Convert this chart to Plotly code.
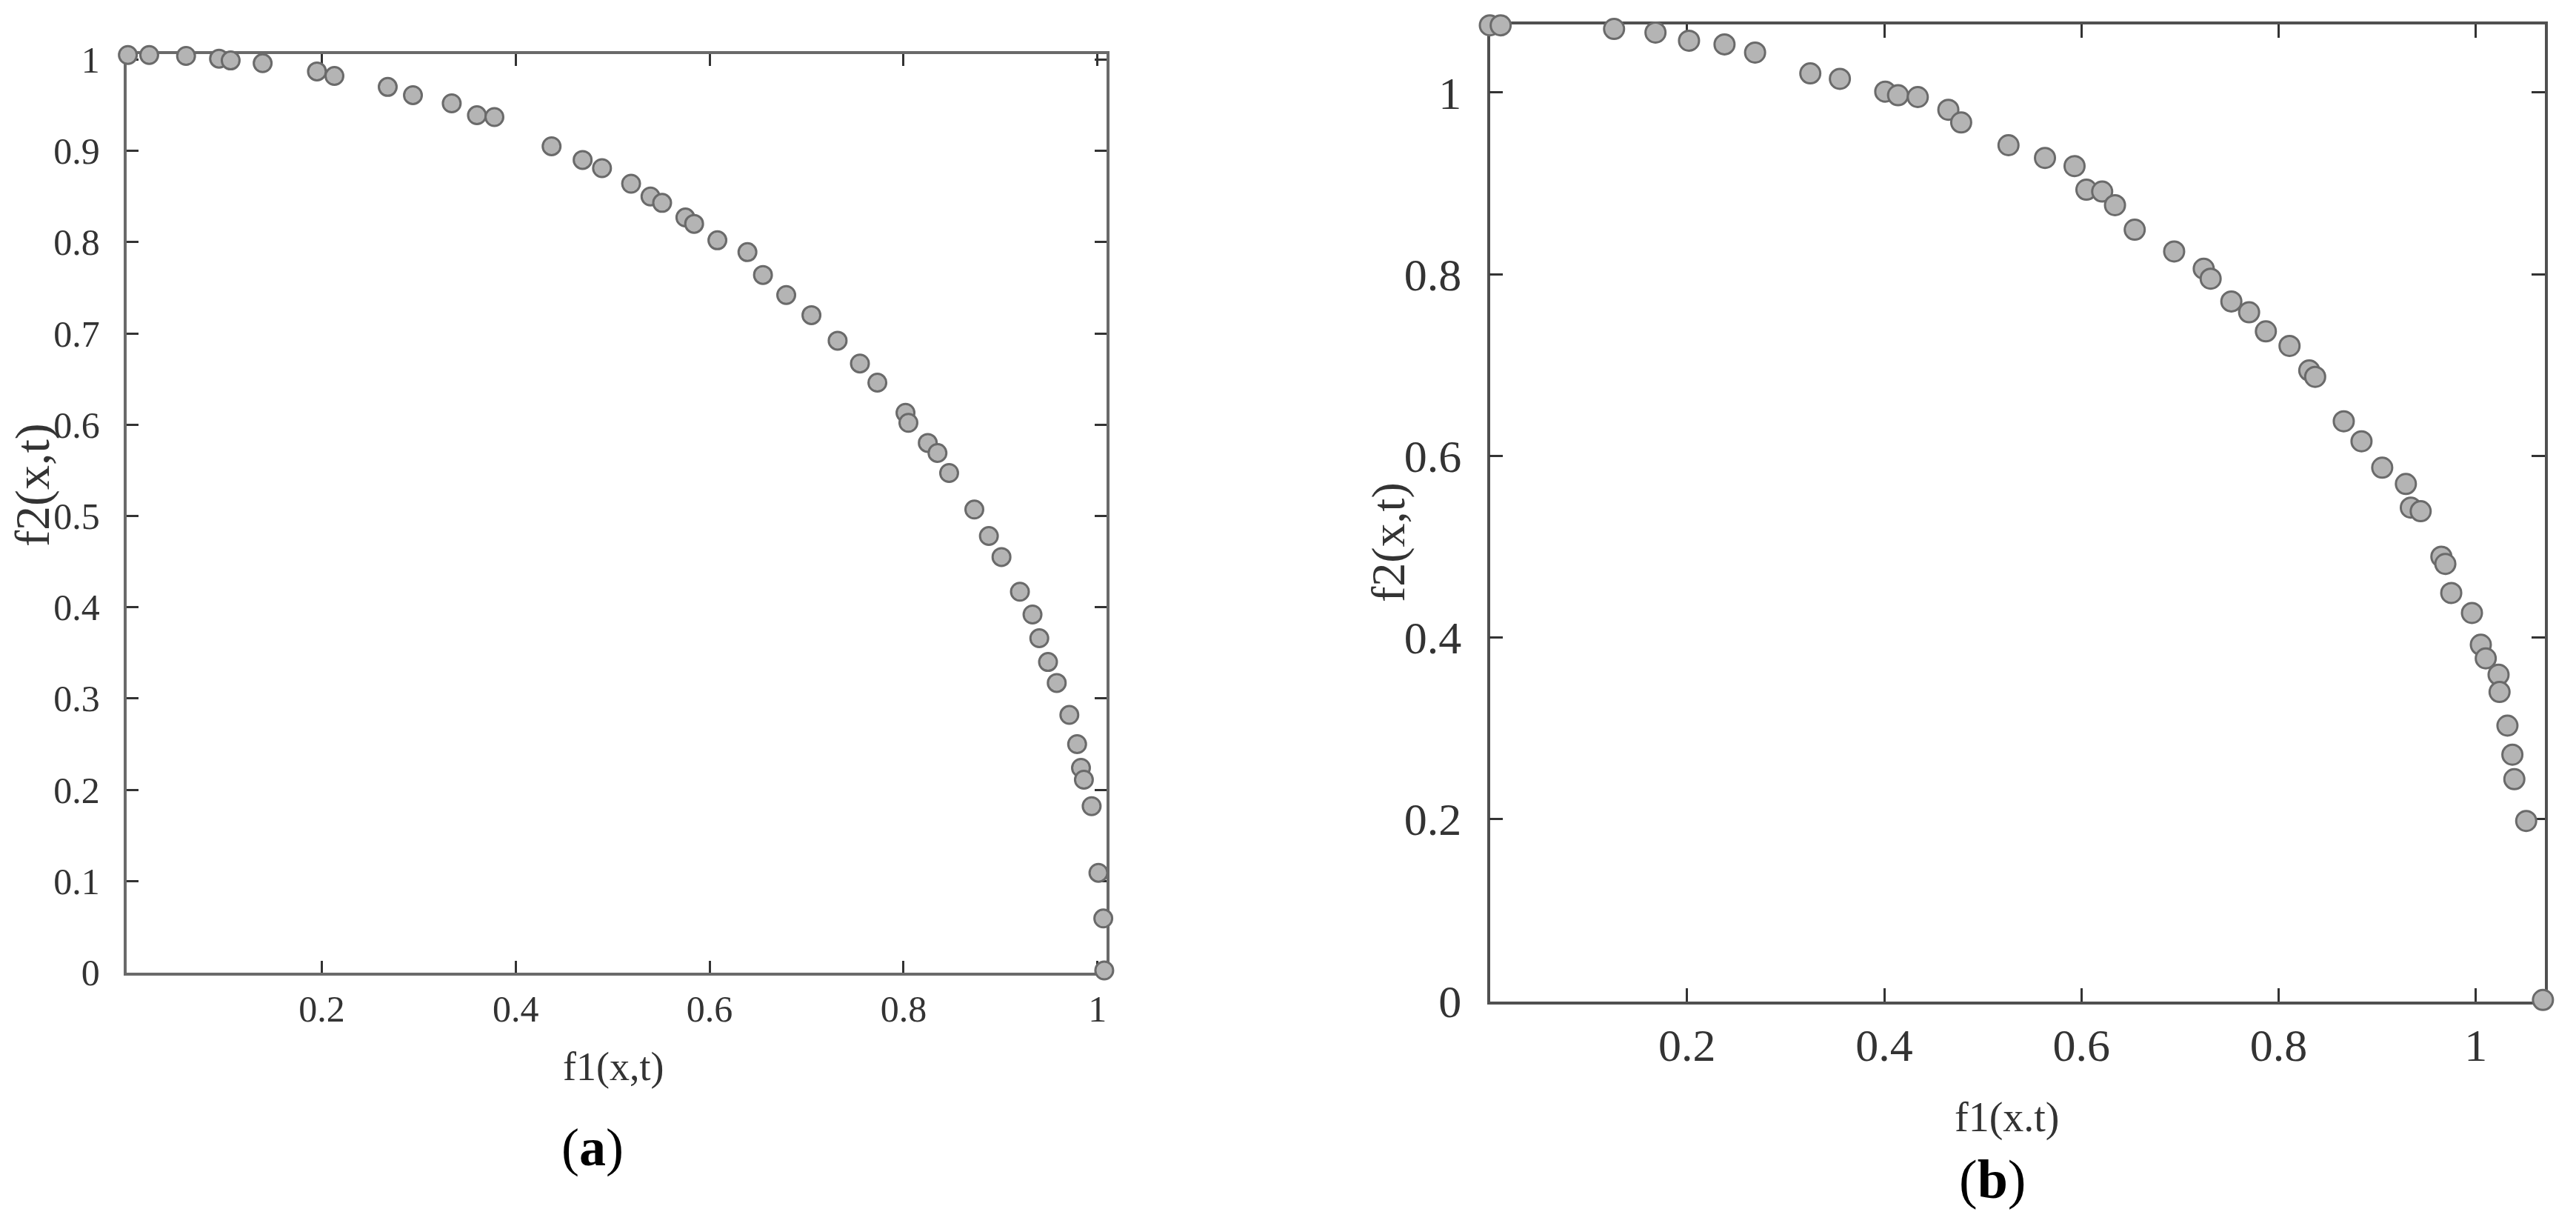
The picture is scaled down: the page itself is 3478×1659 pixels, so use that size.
import plotly.graph_objects as go

# ---------------- data ----------------
a_f1 = [0.000, 0.022, 0.060, 0.094, 0.106, 0.139, 0.195, 0.213, 0.268, 0.294,
        0.334, 0.360, 0.378, 0.437, 0.469, 0.489, 0.519, 0.539, 0.551,
        0.575, 0.584, 0.608, 0.639, 0.655, 0.679, 0.705, 0.732, 0.755, 0.773,
        0.802, 0.805, 0.825, 0.835, 0.847, 0.873,
        0.888, 0.901, 0.920, 0.933, 0.940, 0.949, 0.958, 0.971, 0.979, 0.983,
        0.986, 0.994, 1.001, 1.006, 1.007]
a_f2 = [1.005, 1.005, 1.004, 1.001, 0.999, 0.996, 0.987, 0.982, 0.970, 0.961,
        0.952, 0.939, 0.937, 0.905, 0.890, 0.881, 0.864, 0.850, 0.843,
        0.827, 0.820, 0.802, 0.789, 0.764, 0.742, 0.720, 0.692, 0.667, 0.646,
        0.613, 0.602, 0.580, 0.569, 0.547, 0.507,
        0.478, 0.455, 0.417, 0.392, 0.366, 0.340, 0.317, 0.282, 0.250, 0.224,
        0.211, 0.182, 0.109, 0.059, 0.002]

b_f1 = [0.000, 0.011, 0.126, 0.168, 0.202, 0.238, 0.269, 0.325, 0.355, 0.401,
        0.414, 0.434, 0.465, 0.478,
        0.526, 0.563, 0.593, 0.605, 0.621, 0.634, 0.654, 0.694, 0.724, 0.731,
        0.752, 0.770, 0.787, 0.811, 0.831, 0.837, 0.866, 0.884, 0.905, 0.929,
        0.934, 0.944,
        0.965, 0.969, 0.975, 0.996, 1.005, 1.010, 1.023, 1.024, 1.032, 1.037,
        1.039, 1.051, 1.068]
b_f2 = [1.074, 1.074, 1.070, 1.066, 1.057, 1.053, 1.044, 1.021, 1.015, 1.001,
        0.997, 0.995, 0.981, 0.967,
        0.942, 0.928, 0.919, 0.893, 0.891, 0.876, 0.849, 0.825, 0.806, 0.795,
        0.770, 0.758, 0.737, 0.721, 0.694, 0.687, 0.638, 0.616, 0.587, 0.569,
        0.543, 0.539,
        0.489, 0.481, 0.449, 0.427, 0.392, 0.377, 0.359, 0.340, 0.303, 0.271,
        0.244, 0.198, 0.001]

a_xticks = [0.2, 0.4, 0.6, 0.8, 1.0]
a_xtext = ["0.2", "0.4", "0.6", "0.8", "1"]
a_yticks = [0, 0.1, 0.2, 0.3, 0.4, 0.5, 0.6, 0.7, 0.8, 0.9, 1.0]
a_ytext = ["0", "0.1", "0.2", "0.3", "0.4", "0.5", "0.6", "0.7", "0.8", "0.9", "1"]
b_xticks = [0.2, 0.4, 0.6, 0.8, 1.0]
b_xtext = ["0.2", "0.4", "0.6", "0.8", "1"]
b_yticks = [0, 0.2, 0.4, 0.6, 0.8, 1.0]
b_ytext = ["0", "0.2", "0.4", "0.6", "0.8", "1"]

# ---------------- figure ----------------
# The page body has the browser's default 8px margin, so the figure is made
# 16px smaller than the window and all window-pixel positions are shifted.
OFF = 8
W, H = 3478 - 2 * OFF, 1659 - 2 * OFF
TICKFONT = "Liberation Sans Narrow, Liberation Serif, serif"
SERIF = "Liberation Serif, Times New Roman, serif"


def px_x(win_x):
    return (win_x - OFF) / W


def px_y(win_y):
    return 1 - (win_y - OFF) / H


fig = go.Figure()
fig.add_trace(go.Scatter(
    x=a_f1, y=a_f2, mode="markers", xaxis="x", yaxis="y", cliponaxis=False,
    marker=dict(size=24, color="#b4b4b4", line=dict(color="#6a6a6a", width=3)),
    showlegend=False))
fig.add_trace(go.Scatter(
    x=b_f1, y=b_f2, mode="markers", xaxis="x2", yaxis="y2", cliponaxis=False,
    marker=dict(size=27, color="#b4b4b4", line=dict(color="#6a6a6a", width=3)),
    showlegend=False))


def ax(domain, rng, tv, tt, size, lw, lc, tl, anchor, standoff):
    return dict(domain=domain, range=rng, tickvals=tv, ticktext=tt,
                showline=True, linecolor=lc, linewidth=lw, mirror="ticks",
                ticks="inside", ticklen=tl, tickwidth=3, tickcolor="#333333",
                showgrid=False, zeroline=False, anchor=anchor, automargin=False,
                layer="below traces", ticklabelstandoff=standoff,
                tickfont=dict(family=TICKFONT, size=size, color="#333333"))


fig.update_layout(
    width=W, height=H, autosize=False,
    margin=dict(l=0, r=0, t=0, b=0, pad=0, autoexpand=False),
    paper_bgcolor="white", plot_bgcolor="white",
    xaxis=ax([px_x(170.7), px_x(1493.8)], [-0.0015, 1.0092], a_xticks, a_xtext,
             50, 4, "#6a6a6a", 16, "y", 2),
    yaxis=ax([px_y(1312.5), px_y(73)], [0, 1.006], a_yticks, a_ytext,
             50, 4, "#6a6a6a", 16, "x", 22),
    xaxis2=ax([px_x(2011.5), px_x(3435.5)], [0, 1.0696], b_xticks, b_xtext,
              62, 3.5, "#505050", 18, "y2", 2),
    yaxis2=ax([px_y(1351.5), px_y(33.4)], [-0.0004, 1.0746], b_yticks, b_ytext,
              62, 3.5, "#505050", 18, "x2", 22),
)


def ann(text, wx, wy, size, angle=0, color="#333333"):
    return dict(text=text, x=px_x(wx), y=px_y(wy), xref="paper", yref="paper",
                xanchor="center", yanchor="middle", showarrow=False,
                textangle=angle, font=dict(family=SERIF, size=size, color=color))


fig.update_layout(annotations=[
    ann("f1(x,t)", 828, 1440, 54),
    ann("f2(x,t)", 44, 655, 66, -90),
    ann("(<b>a</b>)", 800, 1549, 72, 0, "black"),
    ann("f1(x.t)", 2710, 1508, 56),
    ann("f2(x,t)", 1874, 732, 64, -90),
    ann("(<b>b</b>)", 2690, 1592, 74, 0, "black"),
])

fig.write_html("out.html")
